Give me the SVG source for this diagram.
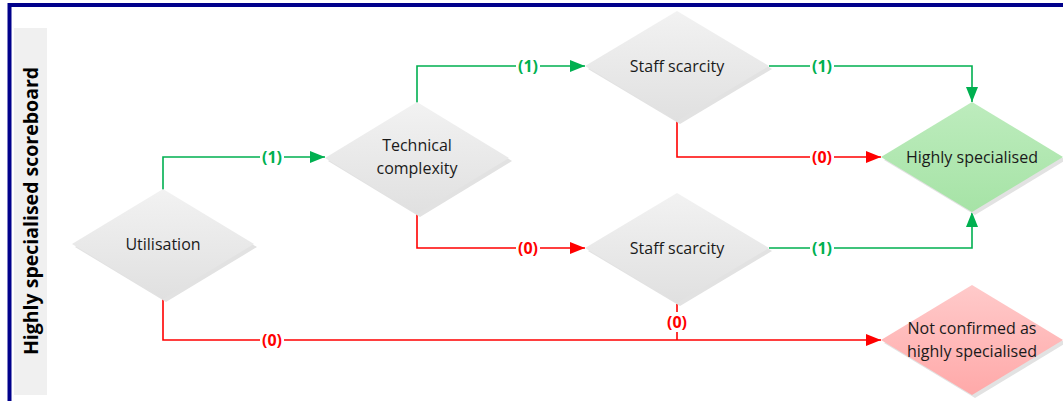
<svg xmlns="http://www.w3.org/2000/svg" width="1063" height="401" viewBox="0 0 1063 401">
  <style>
    .node-text { font-family: "Open Sans", "Liberation Sans", Arial, sans-serif; font-size: 16px; fill: #1a1a1a; text-anchor: middle; }
    .lbl { font-family: "Open Sans", "Liberation Sans", Arial, sans-serif; font-size: 16px; font-weight: bold; text-anchor: middle; dominant-baseline: central; }
    .lbl-yes { fill: #00b050; }
    .lbl-no { fill: #ff0000; }
    .yes { stroke: #00b050; stroke-width: 1.6; fill: none; }
    .no { stroke: #ff0000; stroke-width: 1.6; fill: none; }
    .shadow { fill: #e2e2e2; }
    .lbl-bg { fill: #ffffff; }
  </style>
  <defs>
    <linearGradient id="gGray" x1="0" y1="0" x2="0" y2="1">
      <stop offset="0" stop-color="#f2f2f2"/>
      <stop offset="1" stop-color="#e0e0e0"/>
    </linearGradient>
    <linearGradient id="gGreen" x1="0" y1="0" x2="0" y2="1">
      <stop offset="0" stop-color="#bdecbd"/>
      <stop offset="1" stop-color="#a6e3a6"/>
    </linearGradient>
    <linearGradient id="gRed" x1="0" y1="0" x2="0" y2="1">
      <stop offset="0" stop-color="#ffcaca"/>
      <stop offset="1" stop-color="#ffa9a9"/>
    </linearGradient>
    <marker id="arrYes" markerWidth="15" markerHeight="12" refX="15" refY="6" orient="auto" markerUnits="userSpaceOnUse">
      <path d="M0,0 L15,6 L0,12 Z" fill="#00b050"/>
    </marker>
    <marker id="arrNo" markerWidth="15" markerHeight="12" refX="15" refY="6" orient="auto" markerUnits="userSpaceOnUse">
      <path d="M0,0 L15,6 L0,12 Z" fill="#ff0000"/>
    </marker>
  </defs>

  <!-- frame and side band -->
  <rect x="0" y="0" width="1063" height="401" fill="#ffffff"/>
  <path d="M9.5,401 V5 H1063" fill="none" stroke="#00008b" stroke-width="4"/>
  <rect x="14" y="28" width="33" height="367" fill="#f0f0f0"/>
  <text transform="translate(38,211) rotate(-90)" font-family="'Open Sans', 'Liberation Sans', Arial, sans-serif" font-size="19.5" font-weight="bold" fill="#000" text-anchor="middle">Highly specialised scoreboard</text>

  <!-- connectors -->
  <g id="connectors">
    <path class="yes" d="M163,190 V157 H325" marker-end="url(#arrYes)"/>
    <path class="no" d="M163,298 V340 H881" marker-end="url(#arrNo)"/>
    <path class="yes" d="M417,103 V66 H585" marker-end="url(#arrYes)"/>
    <path class="no" d="M417,214 V248 H585" marker-end="url(#arrNo)"/>
    <path class="yes" d="M769,66 H972 V102" marker-end="url(#arrYes)"/>
    <path class="no" d="M677,121 V157 H881" marker-end="url(#arrNo)"/>
    <path class="yes" d="M769,248 H972 V212" marker-end="url(#arrYes)"/>
    <path class="no" d="M677,304 V340"/>

    <rect class="lbl-bg" x="260" y="148" width="24" height="18"/>
    <text class="lbl lbl-yes" x="272" y="157">(1)</text>
    <rect class="lbl-bg" x="260" y="331" width="24" height="18"/>
    <text class="lbl lbl-no" x="272" y="340">(0)</text>
    <rect class="lbl-bg" x="516" y="57" width="24" height="18"/>
    <text class="lbl lbl-yes" x="528" y="66">(1)</text>
    <rect class="lbl-bg" x="516" y="239" width="24" height="18"/>
    <text class="lbl lbl-no" x="528" y="248">(0)</text>
    <rect class="lbl-bg" x="810" y="57" width="24" height="18"/>
    <text class="lbl lbl-yes" x="822" y="66">(1)</text>
    <rect class="lbl-bg" x="810" y="148" width="24" height="18"/>
    <text class="lbl lbl-no" x="822" y="157">(0)</text>
    <rect class="lbl-bg" x="810" y="239" width="24" height="18"/>
    <text class="lbl lbl-yes" x="822" y="248">(1)</text>
    <rect class="lbl-bg" x="665" y="312" width="24" height="20"/>
    <text class="lbl lbl-no" x="677" y="322">(0)</text>
  </g>

  <!-- decision nodes -->
  <g id="utilisation">
    <path class="shadow" d="M166,192 L257,247 L166,302 L75,247 Z"/>
    <path fill="url(#gGray)" d="M163,189 L254,244 L163,299 L72,244 Z"/>
    <text class="node-text" x="163" y="250">Utilisation</text>
  </g>
  <g id="technical-complexity">
    <path class="shadow" d="M420,105 L512,161 L420,217 L328,161 Z"/>
    <path fill="url(#gGray)" d="M417,102 L509,158 L417,214 L325,158 Z"/>
    <text class="node-text" x="417" y="151">Technical</text>
    <text class="node-text" x="417" y="174">complexity</text>
  </g>
  <g id="staff-scarcity-top">
    <path class="shadow" d="M680,14 L772,69 L680,124 L588,69 Z"/>
    <path fill="url(#gGray)" d="M677,11 L769,66 L677,121 L585,66 Z"/>
    <text class="node-text" x="677" y="72">Staff scarcity</text>
  </g>
  <g id="staff-scarcity-bottom">
    <path class="shadow" d="M680,196 L772,251 L680,306 L588,251 Z"/>
    <path fill="url(#gGray)" d="M677,193 L769,248 L677,303 L585,248 Z"/>
    <text class="node-text" x="677" y="254">Staff scarcity</text>
  </g>

  <!-- outcome nodes -->
  <g id="highly-specialised">
    <path class="shadow" d="M975,105 L1066,160 L975,215 L884,160 Z"/>
    <path fill="url(#gGreen)" d="M972,102 L1063,157 L972,212 L881,157 Z"/>
    <text class="node-text" x="972" y="163">Highly specialised</text>
  </g>
  <g id="not-confirmed">
    <path class="shadow" d="M975,288 L1066,343 L975,398 L884,343 Z"/>
    <path fill="url(#gRed)" d="M972,285 L1063,340 L972,395 L881,340 Z"/>
    <text class="node-text" x="972" y="334">Not confirmed as</text>
    <text class="node-text" x="972" y="357">highly specialised</text>
  </g>
</svg>
